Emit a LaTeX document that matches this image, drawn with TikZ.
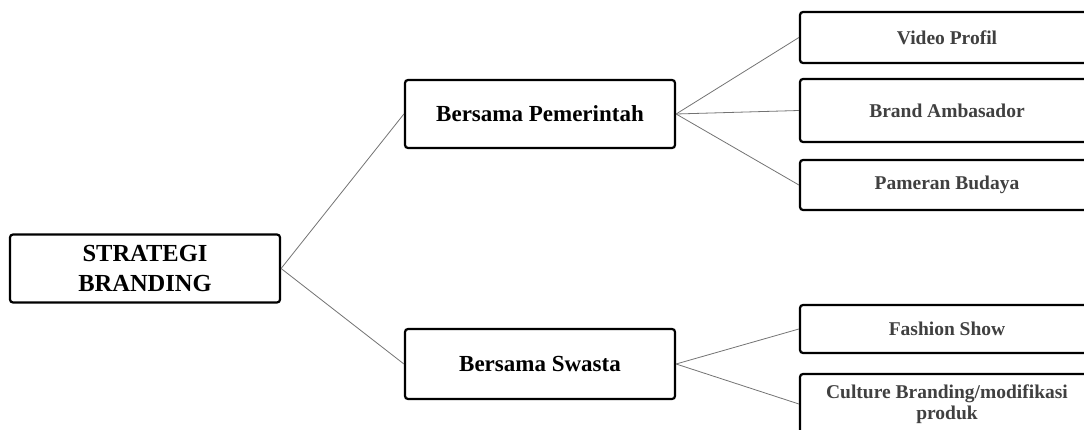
\documentclass[tikz,border=0pt]{standalone}
\usepackage{fontspec}
\setmainfont{Liberation Serif}
\begin{document}
\begin{tikzpicture}[x=1pt,y=-1pt,
  box/.style={draw=black,line width=2.2pt,rounded corners=3pt,fill=white,inner sep=0pt,align=center,font=\bfseries},
  bigbox/.style={box,minimum width=270pt,minimum height=68pt,font=\fontsize{23}{28}\selectfont\bfseries},
  leaf/.style={box,minimum width=294pt,text=black!75,font=\fontsize{19.5}{21}\selectfont\bfseries},
  link/.style={draw=black!55,line width=0.8pt}]
\useasboundingbox (0,0) rectangle (1084,430);
\node[bigbox,font=\fontsize{24.5}{30}\selectfont\bfseries] (root) at (145,268.5) {STRATEGI\\BRANDING};
\node[bigbox] (gov) at (540,114) {Bersama Pemerintah};
\node[bigbox,minimum height=70pt] (pri) at (540,364) {Bersama Swasta};
\node[leaf,minimum height=51pt] (vp) at (947,37.5) {Video Profil};
\node[leaf,minimum height=63pt] (ba) at (947,110.5) {Brand Ambasador};
\node[leaf,minimum height=50pt] (pb) at (947,185) {Pameran Budaya};
\node[leaf,minimum height=48pt] (fs) at (947,329) {Fashion Show};
\node[leaf,minimum height=60pt] (cb) at (947,404) {Culture Branding/modifikasi\\produk};
\draw[link] (root.east) -- (gov.west);
\draw[link] (root.east) -- (pri.west);
\draw[link] (gov.east) -- (vp.west);
\draw[link] (gov.east) -- (ba.west);
\draw[link] (gov.east) -- (pb.west);
\draw[link] (pri.east) -- (fs.west);
\draw[link] (pri.east) -- (cb.west);
\end{tikzpicture}
\end{document}
